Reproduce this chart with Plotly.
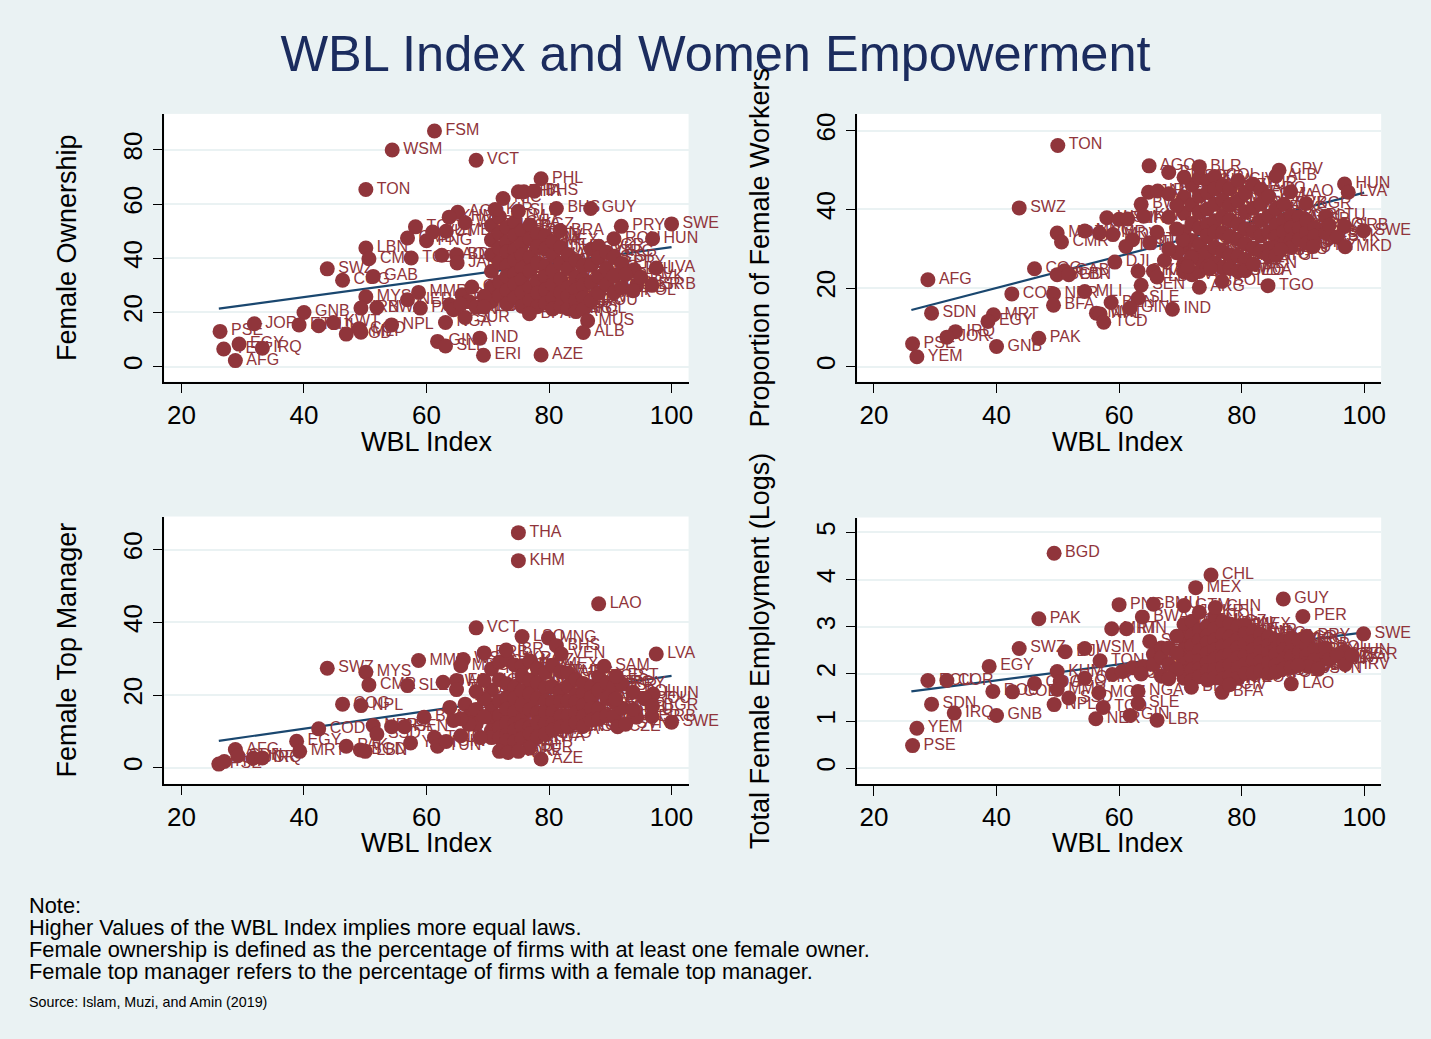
import plotly.graph_objects as go

W, H = 1431, 1039
BG = "#EAF2F3"
MARK = "#90353B"
LINE = "#1A476F"
NAVY = "#1B2C5E"
FONT = "Liberation Sans"

core_codes = ["TUN","COM","GMB","JAM","TJK","BEN",
    "GTM","HND","KAZ","SLB","TLS","VUT",
    "UKR","RUS","UGA","BDI","LSO","CAF","MOZ",
    "GHA","TTO","ZMB","MNG","BTN","FJI","MWI",
    "COL","VNM","IDN","BIH","PHL","KIR","ETH",
    "KGZ","DOM","ECU","CHN","BOL","CRI",
    "PAN","NIC","ZAF","TZA","KEN","RWA",
    "CIV","MDV","AGO","BLZ","ARM","GEO",
    "MEX","NAM","LKA","BRB","BRA","MDA",
    "TUR","MNE","MKD","URY","VEN",
    "ARG","BGD","CPV","SUR","BHS",
    "DMA","GRD","LCA","KNA","ATG",
    "XKX","ALB","MUS","HRV","POL",
    "SVK","SLV","CZE","ROU",
    "BGR","EST","SVN","LTU",
    "GRC","ITA","DEU",
    "ESP","PRT","ISR",
    "PRY","SRB"]
core_wbl = [70.6,70.6,70.6,70.6,70.6,70.6,
    71.9,71.9,71.9,71.9,71.9,71.9,
    73.1,73.1,73.1,73.1,73.1,73.1,73.1,
    74.4,74.4,74.4,74.4,74.4,74.4,74.4,
    75.6,75.6,75.6,75.6,75.6,75.6,75.6,
    76.9,76.9,76.9,76.9,76.9,76.9,
    78.1,78.1,78.1,78.1,78.1,78.1,
    79.4,79.4,79.4,79.4,79.4,79.4,
    80.6,80.6,80.6,80.6,80.6,80.6,
    81.9,81.9,81.9,81.9,81.9,
    83.1,83.1,83.1,83.1,83.1,
    84.4,84.4,84.4,84.4,84.4,
    85.6,85.6,85.6,85.6,85.6,
    86.9,86.9,86.9,86.9,
    88.1,88.1,88.1,88.1,
    89.4,89.4,89.4,
    90.6,90.6,90.6,
    91.9,91.9]
core_own = [52.1,46.8,41.3,35.2,29.4,24.1,
    55.3,49.2,43.7,38.4,31.2,26.3,
    51.4,46.1,42.3,37.2,33.4,28.1,23.2,
    53.2,48.4,43.1,39.3,34.2,30.4,25.3,
    50.2,45.4,41.2,36.3,32.1,27.4,22.3,
    52.3,47.1,40.4,35.3,29.2,24.4,
    49.1,44.2,38.3,31.4,27.2,22.1,
    48.3,43.4,37.1,33.2,28.3,23.4,
    46.2,41.1,35.4,30.3,25.2,21.3,
    44.1,38.2,32.4,27.3,22.2,
    41.4,36.2,29.3,26.1,21.4,
    39.2,33.1,28.4,24.2,20.3,
    37.3,32.2,30.1,25.4,21.2,
    43.3,37.4,31.1,24.3,
    44.4,40.2,33.3,27.1,
    42.2,36.1,30.2,
    40.3,33.4,27.3,
    38.1,29.1]
core_wrk = [43.2,39.1,34.3,30.4,26.2,24.1,
    46.3,41.2,36.4,32.1,28.3,23.4,
    48.1,43.4,39.2,35.3,31.1,27.4,24.2,
    47.2,44.3,40.1,36.2,33.4,29.1,25.3,
    48.4,45.2,41.3,37.1,34.2,30.3,26.4,
    46.1,42.4,38.2,34.1,29.3,25.2,
    45.3,41.1,37.4,33.2,28.4,25.1,
    47.4,42.2,36.3,32.4,28.1,24.3,
    44.2,39.4,35.1,31.3,27.2,24.4,
    46.4,40.3,34.4,30.2,26.1,
    45.1,41.4,37.2,33.3,29.4,
    43.4,38.3,34.2,30.1,28.2,
    40.2,36.1,33.1,30.4,28.3,
    41.3,37.3,34.3,31.2,
    38.4,35.4,32.2,30.3,
    38.1,35.2,32.3,
    37.2,34.1,31.4,
    35.3,33.2]
core_mgr = [27.2,21.3,17.1,13.4,10.2,8.3,
    29.1,24.2,18.4,14.3,11.1,8.2,
    29.8,23.1,19.3,16.2,12.4,9.1,7.4,
    28.3,22.2,19.1,15.4,12.1,10.3,7.2,
    28.1,25.3,21.2,17.3,13.1,11.4,8.1,
    29.4,24.1,20.3,16.1,11.2,9.4,
    27.3,23.4,19.2,15.1,12.3,8.4,
    26.2,22.1,18.3,15.3,12.2,9.2,
    28.2,22.3,18.1,15.2,12.1,10.4,
    26.4,21.1,18.2,14.1,11.3,
    26.1,22.4,18.4,14.4,11.2,
    24.3,20.1,18.1,15.1,12.4,
    23.2,20.4,17.2,14.2,11.4,
    22.2,19.4,16.3,13.1,
    25.1,21.4,16.2,13.4,
    23.3,19.1,14.3,
    22.4,18.3,14.1,
    23.1,16.4]
core_emp = [3.05,2.76,2.51,2.3,2.04,1.91,
    3.12,2.82,2.6,2.35,2.09,1.86,
    3.31,2.93,2.71,2.49,2.28,2.11,1.94,
    3.02,2.81,2.66,2.44,2.24,2.06,1.87,
    3.22,2.96,2.72,2.51,2.31,2.09,1.92,
    3.11,2.83,2.59,2.36,2.14,1.89,
    3.06,2.79,2.61,2.42,2.19,1.96,
    3.01,2.74,2.56,2.34,2.12,1.91,
    3.04,2.86,2.62,2.39,2.21,2.01,
    2.91,2.69,2.52,2.29,2.02,
    2.84,2.64,2.46,2.26,2.06,
    2.79,2.61,2.44,2.24,2.01,
    2.71,2.54,2.41,2.19,2.04,
    2.69,2.52,2.31,2.11,
    2.76,2.49,2.36,2.14,
    2.72,2.46,2.26,
    2.61,2.39,2.21,
    2.51,2.29]

edge_own_codes = ["FSM","WSM","VCT","PHL","TON","THA","HTI","BHS","NIC","GUY","BHS","SLB","KIR","AGO","KHM","WBG",
    "LBN","CMR","SWZ","GAB","COG","TCD","LAO","BDI","JAM","PNG","VUT","ZMB","TGO","GMB","COD",
    "MYS","IRN","BWA","NER","MMR","PAK","SDN","BLR","GIN","SUR","NGA","IND","GIN","SLE","ERI","AZE","BFA","MUS","ALB",
    "GNB","ETH","DJI","KWT","BGD","MLI","NPL","JOR","PSE","YEM","EGY","IRQ","AFG",
    "SWE","PRY","ROU","HUN","LVA","LTU","SRB","PER","BRA",
    "EST","POL","SVK","GTM","TLS","SEN","MDG","LSO","CIV"]
edge_own_wbl = [61.3,54.4,68.1,78.7,50.1,75.0,75.9,77.6,72.5,86.8,81.2,75.0,71.2,65.1,63.7,66.3,
    50.1,50.6,43.8,51.3,46.3,57.5,62.5,64.9,65.0,60.0,61.0,63.2,58.2,56.9,49.0,
    50.1,49.3,51.9,56.9,58.7,59.0,63.8,65.8,67.4,66.3,63.1,68.7,61.8,63.1,69.3,78.7,76.8,86.3,85.6,
    40.0,39.2,42.4,44.8,46.9,49.3,54.3,31.9,26.3,26.9,29.4,33.2,28.8,
    100.0,91.8,90.6,96.9,97.5,93.9,96.8,94.3,81.8,
    92.5,93.7,95.0,66.9,68.1,64.4,69.4,69.4,65.6]
edge_own_vals = [87.0,80.0,76.2,69.4,65.4,64.6,64.6,64.8,62.1,58.4,58.4,57.4,58.0,57.0,55.2,53.1,
    43.8,39.8,36.1,33.3,31.9,40.1,41.1,41.3,38.3,46.5,49.7,50.0,51.6,47.5,14.0,
    25.8,21.6,21.8,24.7,27.4,21.6,22.8,26.5,29.4,18.1,16.3,10.5,9.3,7.6,4.2,4.3,19.5,16.9,12.6,
    20.0,15.4,15.1,16.3,12.0,12.7,15.4,15.8,13.0,6.5,8.3,6.8,2.2,
    52.7,51.8,47.2,47.2,36.4,35.8,30.0,30.0,50.2,
    34.0,28.0,33.0,24.0,22.0,21.0,26.0,22.0,23.0]

edge_wrk_codes = ["TON","AGO","BLR","BDI","LSO","CPV","ALB","HUN","LVA","LAO","BGR","LTU","SRB","SWE","SWZ",
    "JAM","IRN","BWA","WSM","FJI","KIR","KMB","MOZ","CMR","MNG","SMR","MDV","VUT","TUN","SLB","TUR","PHL",
    "DJI","COG","GAB","BGD","LBN","AFG","SDN","MRT","EGY","IRQ","JOR","PSE","YEM","GNB","PAK","COD","NER","BFA","MLI","BEN",
    "SLE","GIN","MWI","NPL","TCD","IND","SEN","TGO","ARG","GHA","KHM","LBR","ZMB","ETH","RWA","CIV","BOL","PRY","MUS",
    "GTM","HND","KAZ","KGZ","LKA","UZB","EST","POL","SVK","MKD"]
edge_wrk_wbl = [50.0,64.9,73.1,68.1,70.6,86.1,85.6,96.8,97.4,88.0,90.5,93.7,96.8,99.9,43.7,
    64.8,66.3,63.6,58.0,60.0,61.4,64.0,49.9,50.6,54.4,56.8,59.0,62.2,61.1,66.2,65.0,70.4,
    59.3,46.2,51.1,49.9,51.8,28.8,29.4,39.5,38.6,33.3,31.9,26.3,27.0,40.0,46.9,42.5,49.3,49.3,54.4,58.7,
    63.1,61.8,56.3,56.9,57.5,68.7,63.6,84.3,73.1,63.1,65.6,66.2,67.4,71.8,71.2,74.9,76.8,91.7,86.4,
    68.1,68.1,69.4,69.4,69.4,68.1,93.7,94.3,95.6,96.9]
edge_wrk_vals = [56.3,51.1,50.9,49.4,48.2,50.0,48.5,46.5,44.4,44.5,41.5,38.3,35.7,34.6,40.4,
    44.4,44.7,41.3,37.9,37.5,37.6,38.3,34.0,31.7,34.5,34.0,33.6,32.3,30.6,34.2,31.5,32.3,
    26.6,24.9,24.4,23.4,23.4,22.1,13.6,13.2,11.5,8.9,7.5,5.8,2.5,5.1,7.2,18.5,18.5,15.6,19.1,16.3,
    17.4,14.9,13.6,13.4,11.3,14.6,20.7,20.6,20.2,24.3,24.3,22.8,27.0,27.8,25.5,25.1,21.7,30.6,29.8,
    44.0,38.0,41.0,35.0,29.0,30.0,34.0,36.0,33.0,30.5]

edge_mgr_codes = ["THA","KHM","LAO","VCT","LSO","MNG","BHS","VEN","LVA","SAM","EST","HUN","SWE","SRB","PER","CZE","POL","HRV",
    "SWZ","MYS","MMR","CMR","SLE","WSM","MDG","BRB","IBR","BWA","FJI","TGO","COG","NPL","BEN","DJI","ZMB",
    "COD","NER","SSD","BFA","SEN","TCD","TUN","GIN","GHA","IRN","EGY","MRT","PAK","BGD","LBN","YEM",
    "AFG","SDN","JOR","IRQ","PSE","HTI","AZE","TUR","IRQ","KOR","ARE",
    "LTU","ROU","SVN","BGR","GAM","RWA","MLI","CAF","COM","UGA","GTM","HND","ZWE","TZA"]
edge_mgr_wbl = [75.0,75.0,88.1,68.1,75.6,79.9,81.2,82.0,97.5,89.0,91.0,97.0,100.0,96.8,94.3,91.2,93.7,90.9,
    43.8,50.1,58.7,50.6,56.9,66.0,65.6,69.4,73.0,62.7,64.9,64.9,46.3,49.3,59.6,63.8,66.3,
    42.4,51.3,51.9,54.3,56.4,61.3,61.8,63.2,65.6,68.8,38.8,39.3,46.9,49.2,50.0,57.4,
    28.8,29.2,31.7,33.2,26.1,27.0,78.7,76.8,71.9,73.3,75.0,
    93.7,95.6,92.5,96.9,66.9,68.1,68.1,69.4,69.4,69.4,68.1,66.9,65.6,64.4]
edge_mgr_vals = [64.7,57.0,45.1,38.5,36.1,35.7,33.6,31.3,31.3,27.9,25.2,20.3,12.5,14.1,13.9,11.3,20.8,18.9,
    27.4,26.3,29.5,22.8,22.6,29.8,28.1,31.6,32.4,23.5,24.0,21.5,17.5,17.1,13.9,16.6,17.5,
    10.7,11.6,9.3,11.3,11.3,8.3,5.9,7.2,8.8,8.3,7.3,4.5,5.9,4.9,4.5,6.8,
    5.0,3.3,2.6,2.7,1.0,1.7,2.4,5.4,4.5,4.2,4.5,
    16.0,19.0,12.0,17.0,14.0,16.0,12.0,19.0,14.0,24.0,21.0,12.0,13.5,13.0]

edge_emp_codes = ["BGD","CHL","MEX","GUY","PER","PAK","PNG","BMU","GTM","CHN","BWA","MRT","IMN","SWE","PRY","SWZ","DJI","WSM","TON","EGY",
    "ECU","COR","ROU","COD","COG","KHM","AGO","MMR","CMR","SSD","MOZ","TCD","NPL","NGA","SLE","NER","GIN","LBR","SDN","IRQ","GNB","YEM","PSE","BFA","LAO","BEN","CIV",
    "LVA","HUN","EST","SDV","LEU","TGO","BDI","MLI","ZWE","SEN","TJK","RWA","GAB",
    "JAM","UGA","KEN","TZA","GHA","ZMB","HND","KGZ","ETH","POL","SVK","CZE","HRV","SVN","BGR"]
edge_emp_wbl = [49.4,75.0,72.5,86.8,90.0,46.9,60.0,65.6,70.6,75.7,63.8,58.8,61.2,99.9,90.6,43.7,51.2,54.4,56.9,38.8,
    28.8,31.9,39.4,42.6,46.2,49.9,50.4,49.9,54.4,51.8,56.7,57.4,49.4,63.1,63.1,56.2,61.8,66.2,29.4,33.1,40.0,27.0,26.3,76.8,88.1,71.8,78.0,
    97.3,96.8,94.0,90.9,89.2,58.9,60.5,62.2,63.9,65.0,65.6,63.6,66.9,
    65.6,66.9,68.1,68.1,69.4,69.4,69.4,66.9,68.1,93.7,94.3,95.6,96.9,92.5,98.0]
edge_emp_vals = [4.56,4.1,3.83,3.59,3.22,3.17,3.47,3.48,3.45,3.41,3.21,2.96,2.96,2.85,2.8,2.54,2.47,2.54,2.28,2.16,
    1.86,1.86,1.63,1.62,1.8,2.05,1.84,1.67,1.91,1.49,1.6,1.29,1.35,1.63,1.38,1.05,1.12,1.02,1.36,1.17,1.12,0.85,0.48,1.61,1.79,1.72,1.77,
    2.34,2.48,2.34,2.16,2.18,1.99,2.05,2.13,2.16,2.69,2.41,2.0,2.55,
    2.2,2.35,2.55,2.2,2.8,2.45,2.1,1.95,1.9,2.55,2.3,2.4,2.2,2.1,2.4]

trend_wbl = [26.1, 100.0]
trend_own = [21.4, 44.1]
trend_wrk = [14.4, 44.3]
trend_mgr = [7.4, 25.3]
trend_emp = [1.63, 2.88]

xticks = [20, 40, 60, 80, 100]
xtitle = "WBL Index"
note_lines = ["Note:",
    "Higher Values of the WBL Index implies more equal laws.",
    "Female ownership is defined as the percentage of firms with at least one female owner.",
    "Female top manager refers to the percentage of firms with a female top manager."]
source = "Source: Islam, Muzi, and Amin (2019)"
title = "WBL Index and Women Empowerment"

panels = [
    dict(n="", px=(165, 691), py=(113, 381), xr=(17.22, 102.78), yr=(-5.56, 93.33), ticks=[0, 20, 40, 60, 80],
         tx=428.5, ty=441, ytitle="Female Ownership", core=core_own, ec=edge_own_codes, ew=edge_own_wbl, ev=edge_own_vals, t=trend_own),
    dict(n="2", px=(860.5, 1386), py=(113, 381), xr=(17.31, 102.77), yr=(-3.83, 64.33), ticks=[0, 20, 40, 60],
         tx=1121.5, ty=441, ytitle="Proportion of Female Workers", core=core_wrk, ec=edge_wrk_codes, ew=edge_wrk_wbl, ev=edge_wrk_vals, t=trend_wrk),
    dict(n="3", px=(165, 691), py=(516, 783.5), xr=(17.22, 102.78), yr=(-4.41, 69.15), ticks=[0, 20, 40, 60],
         tx=428.5, ty=843, ytitle="Female Top Manager", core=core_mgr, ec=edge_mgr_codes, ew=edge_mgr_wbl, ev=edge_mgr_vals, t=trend_mgr),
    dict(n="4", px=(860.5, 1386), py=(517, 784), xr=(17.31, 102.77), yr=(-0.339, 5.318), ticks=[0, 1, 2, 3, 4, 5],
         tx=1121.5, ty=843, ytitle="Total Female Employment (Logs)", core=core_emp, ec=edge_emp_codes, ew=edge_emp_wbl, ev=edge_emp_vals, t=trend_emp),
]

fig = go.Figure()
layout = dict()
ann = []
for p in panels:
    n = p["n"]
    xs = core_wbl + p["ew"]
    ys = p["core"] + p["ev"]
    names = core_codes + p["ec"]
    fig.add_trace(go.Scatter(x=trend_wbl, y=p["t"], mode="lines", xaxis="x" + n, yaxis="y" + n,
                             line=dict(color=LINE, width=2.2), showlegend=False, hoverinfo="skip"))
    fig.add_trace(go.Scatter(x=xs, y=ys, text=names, mode="markers", xaxis="x" + n, yaxis="y" + n,
                             marker=dict(color=MARK, size=15, line=dict(width=0)),
                             cliponaxis=False, showlegend=False))
    fig.add_trace(go.Scatter(x=xs, y=ys, text=names, mode="markers+text", textposition="middle right",
                             xaxis="x" + n, yaxis="y" + n, hoverinfo="skip",
                             marker=dict(color=MARK, size=16, opacity=0, line=dict(width=0)),
                             textfont=dict(family=FONT, size=16, color=MARK),
                             cliponaxis=False, showlegend=False))
    layout["xaxis" + n] = dict(
        domain=[p["px"][0] / W, p["px"][1] / W], range=list(p["xr"]), anchor="y" + n,
        tickvals=xticks, ticks="outside", ticklen=10, tickwidth=1.3, tickcolor="black", ticklabelstandoff=-1,
        showline=True, linecolor="black", linewidth=1.5, showgrid=False, zeroline=False,
        tickfont=dict(family=FONT, size=26, color="black"))
    layout["yaxis" + n] = dict(
        domain=[1 - p["py"][1] / H, 1 - p["py"][0] / H], range=list(p["yr"]), anchor="x" + n,
        tickvals=p["ticks"], ticks="outside", ticklen=10, tickwidth=1.3, tickcolor="black", tickangle=-90,
        showline=True, linecolor="black", linewidth=1.5, showgrid=True, gridcolor=BG, gridwidth=2, zeroline=False,
        tickfont=dict(family=FONT, size=26, color="black"),
        title=dict(text=p["ytitle"], font=dict(family=FONT, size=27, color="black"), standoff=34))
    ann.append(dict(text=xtitle, x=p["tx"] / W, y=1 - p["ty"] / H, xref="paper", yref="paper",
                    xanchor="center", yanchor="middle", showarrow=False,
                    font=dict(family=FONT, size=27, color="black")))

for i, t in enumerate(note_lines):
    ann.append(dict(text=t, x=27.5 / W, y=1 - (905.5 + [0, 22, 44, 66][i]) / H, xref="paper", yref="paper",
                    xanchor="left", yanchor="middle", showarrow=False,
                    font=dict(family=FONT, size=21.8, color="black")))
ann.append(dict(text=source, x=27.5 / W, y=1 - 1002 / H, xref="paper", yref="paper", xanchor="left", yanchor="middle",
                showarrow=False, font=dict(family=FONT, size=14.3, color="black")))

fig.update_layout(
    width=W, height=H, margin=dict(l=0, r=0, t=0, b=0), autosize=False,
    paper_bgcolor=BG, plot_bgcolor="white", showlegend=False, annotations=ann,
    title=dict(text=title, x=715.5 / W, xanchor="center", y=1 - 53 / H, yanchor="middle",
               font=dict(family=FONT, size=50.5, color=NAVY)),
    **layout)
fig.write_html("out.html", config={"displayModeBar": False},
               post_script="document.body.style.margin='0';document.body.style.overflow='hidden';")
